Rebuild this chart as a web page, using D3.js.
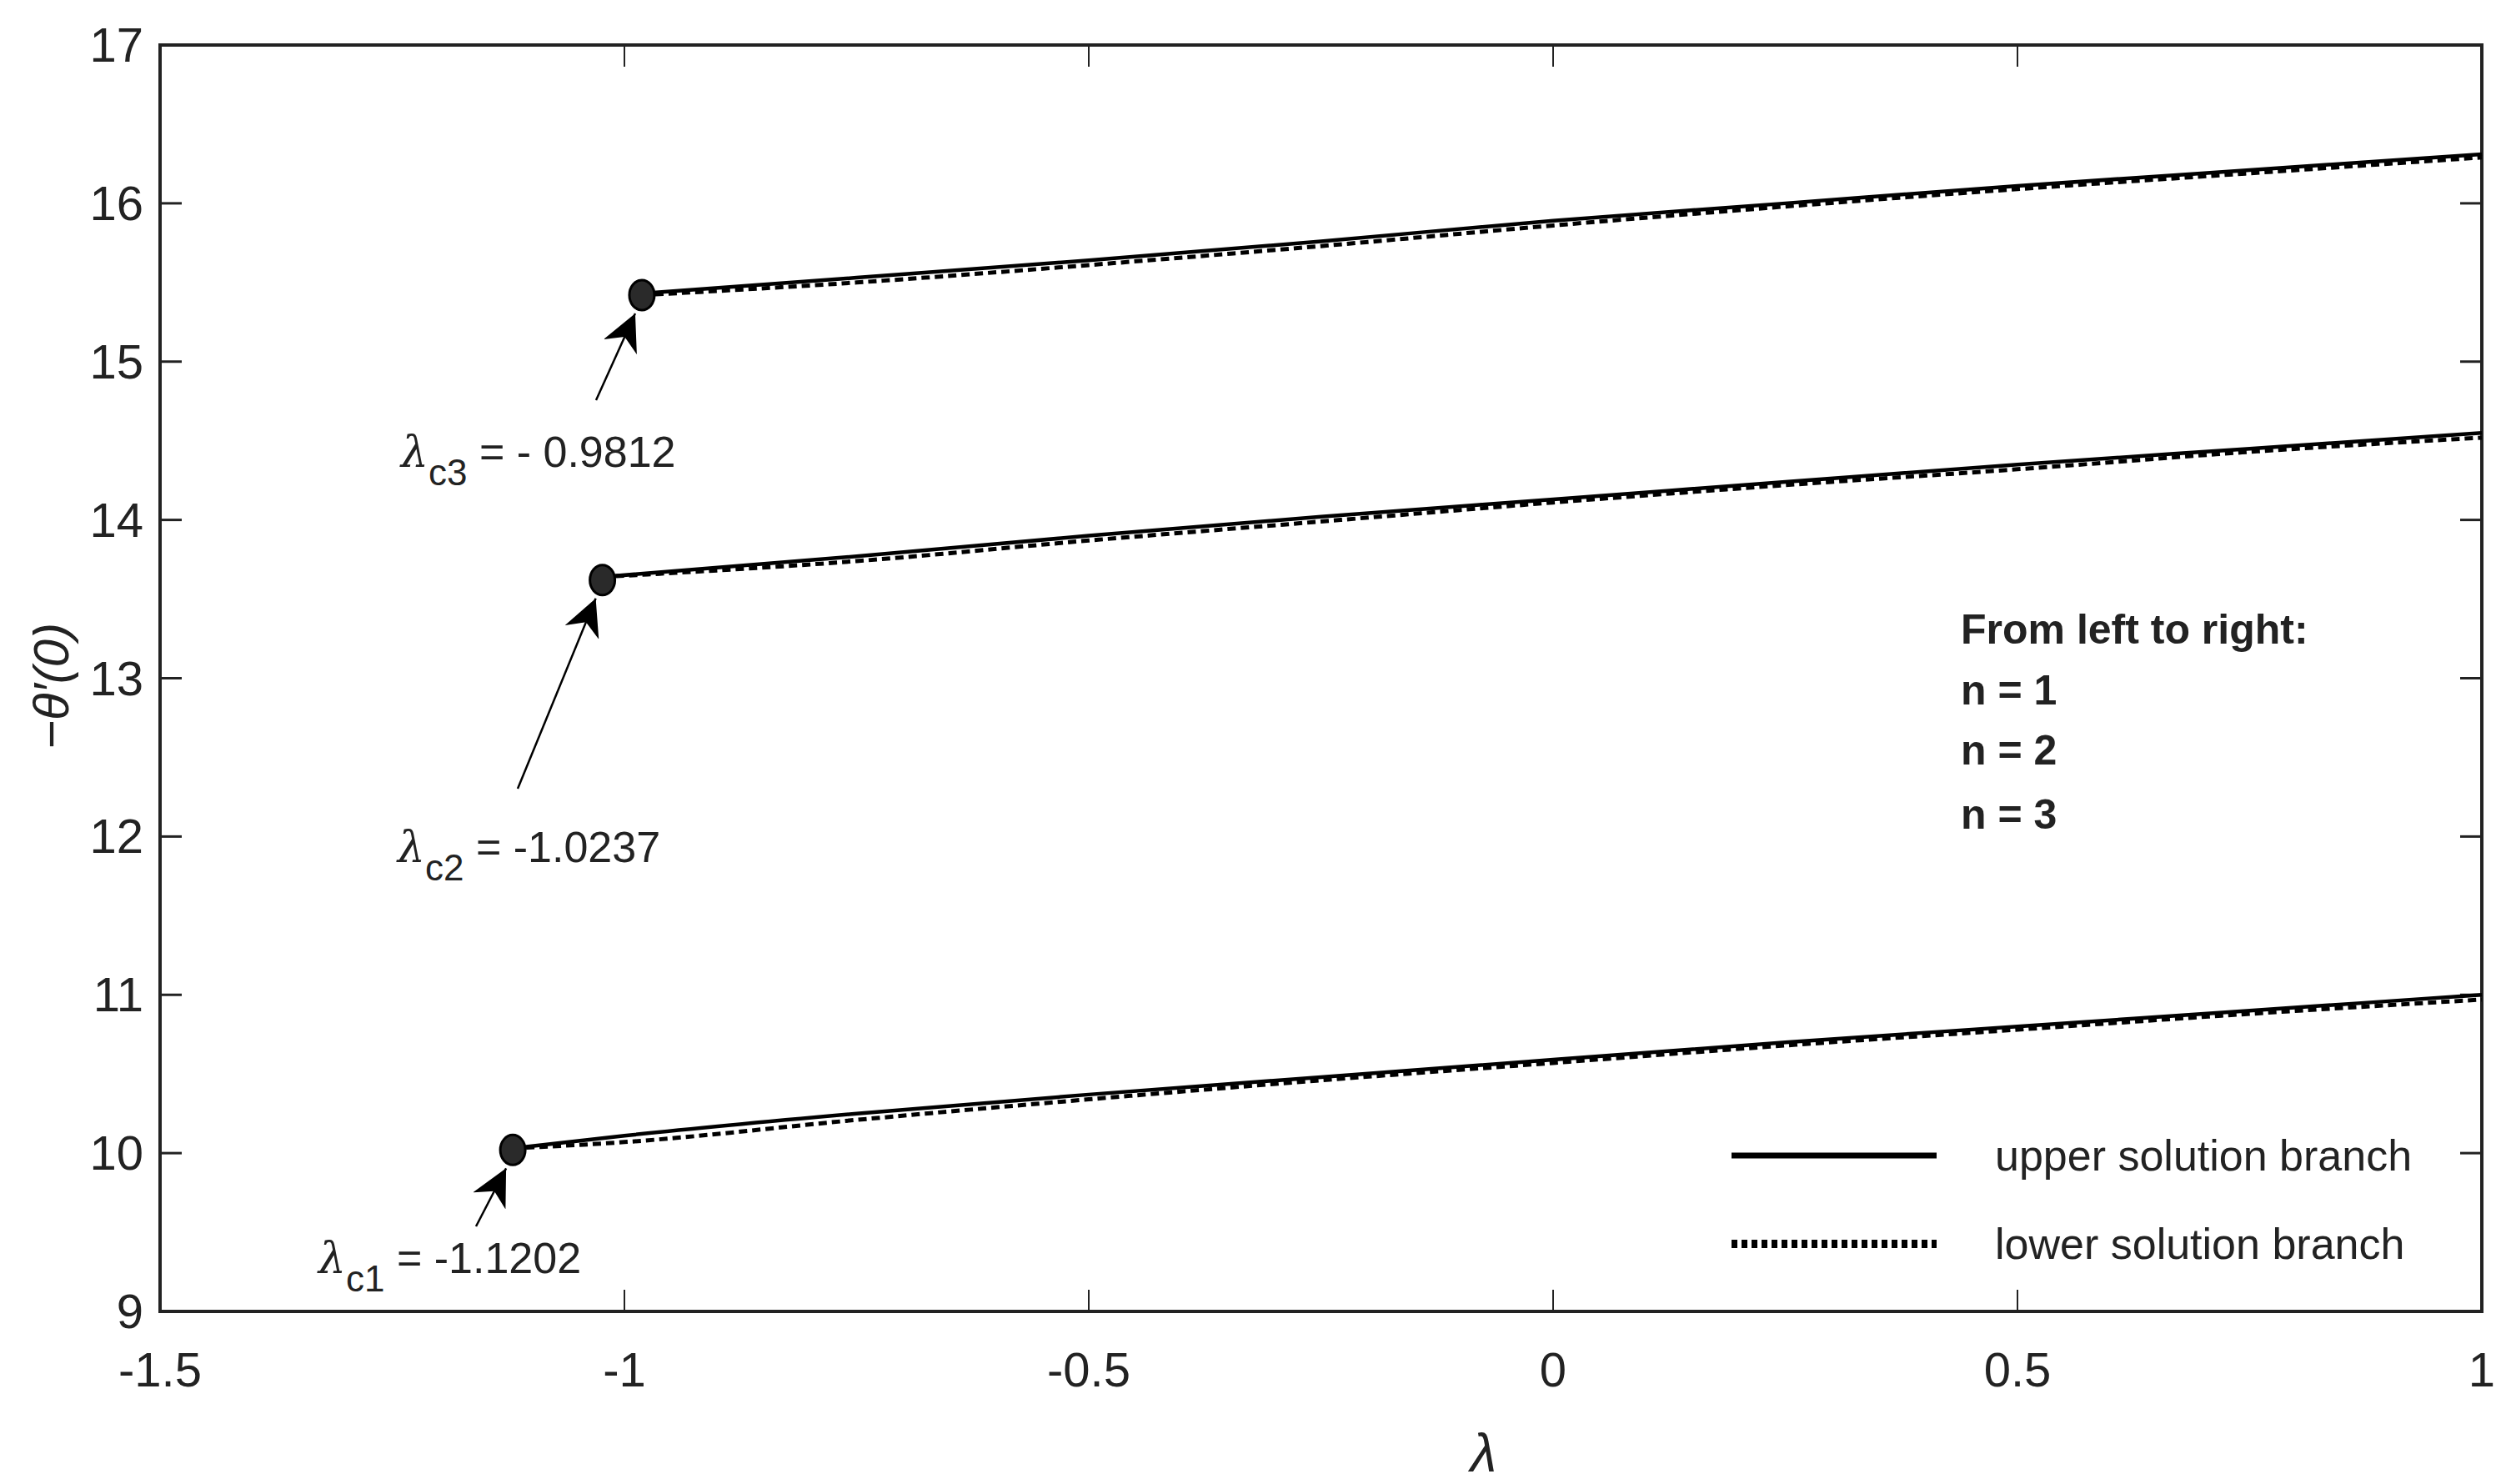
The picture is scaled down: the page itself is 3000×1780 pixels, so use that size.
<!DOCTYPE html>
<html><head><meta charset="utf-8">
<script src="https://cdn.jsdelivr.net/npm/d3@7"></script>
<style>body{margin:0;background:#fff}text{font-family:"Liberation Sans",Arial,sans-serif;fill:#222}</style>
</head><body>
<script>
var width = 3000, height = 1780,
  margin = {left: 192, right: 23, top: 54, bottom: 207};

var xTicks = [-1.5, -1, -0.5, 0, 0.5, 1],
  yTicks = [9, 10, 11, 12, 13, 14, 15, 16, 17];

// lambda values along each branch
var lamN1 = [-1.1202, -1.0, -0.75, -0.5, -0.25, 0, 0.25, 0.5, 0.75, 1],
  upperN1 = [10.03, 10.11, 10.25, 10.37, 10.48, 10.59, 10.70, 10.80, 10.90, 11.00],
  lowerN1 = [10.03, 10.07, 10.21, 10.34, 10.46, 10.57, 10.68, 10.78, 10.88, 10.97];
var lamN2 = [-1.0237, -0.75, -0.5, -0.25, 0, 0.25, 0.5, 0.75, 1],
  upperN2 = [13.64, 13.77, 13.90, 14.02, 14.13, 14.24, 14.35, 14.45, 14.55],
  lowerN2 = [13.64, 13.74, 13.87, 13.99, 14.11, 14.22, 14.32, 14.43, 14.52];
var lamN3 = [-0.9812, -0.75, -0.5, -0.25, 0, 0.25, 0.5, 0.75, 1],
  upperN3 = [15.43, 15.53, 15.64, 15.76, 15.89, 16.00, 16.11, 16.21, 16.31],
  lowerN3 = [15.42, 15.50, 15.61, 15.73, 15.86, 15.98, 16.09, 16.19, 16.29];

var critLam = [-1.1202, -1.0237, -0.9812],
  critVal = [10.02, 13.62, 15.42],
  critLabel = ['c1', 'c2', 'c3'],
  critText = [' = -1.1202', ' = -1.0237', ' = - 0.9812'];

var svg = d3.select('body').append('svg').attr('width', width).attr('height', height);

var x = d3.scaleLinear().domain([-1.5, 1]).range([margin.left, width - margin.right]),
  y = d3.scaleLinear().domain([9, 17]).range([height - margin.bottom, margin.top]);

var tick = 26;
var axes = svg.append('g').attr('stroke', '#222');
xTicks.forEach(function(t){
  axes.append('line').attr('x1', x(t)).attr('x2', x(t)).attr('y1', y(9)).attr('y2', y(9) - tick).attr('stroke-width', 2);
  axes.append('line').attr('x1', x(t)).attr('x2', x(t)).attr('y1', y(17)).attr('y2', y(17) + tick).attr('stroke-width', 2);
  svg.append('text').attr('x', x(t)).attr('y', y(9) + 90).attr('text-anchor', 'middle').attr('font-size', 58).text(t);
});
yTicks.forEach(function(t){
  axes.append('line').attr('x1', x(-1.5)).attr('x2', x(-1.5) + tick).attr('y1', y(t)).attr('y2', y(t)).attr('stroke-width', 3);
  axes.append('line').attr('x1', x(1)).attr('x2', x(1) - tick).attr('y1', y(t)).attr('y2', y(t)).attr('stroke-width', 3);
  svg.append('text').attr('x', x(-1.5) - 20).attr('y', y(t) + 20).attr('text-anchor', 'end').attr('font-size', 58).text(t);
});
axes.append('rect').attr('x', x(-1.5)).attr('y', y(17)).attr('width', x(1) - x(-1.5)).attr('height', y(9) - y(17))
  .attr('fill', 'none').attr('stroke-width', 4);

var line = d3.line().x(function(d){return x(d[0]);}).y(function(d){return y(d[1]);}).curve(d3.curveMonotoneX);
[[lamN1, upperN1, lowerN1], [lamN2, upperN2, lowerN2], [lamN3, upperN3, lowerN3]].forEach(function(s){
  svg.append('path').datum(d3.zip(s[0], s[2])).attr('d', line).attr('fill', 'none')
    .attr('stroke', '#000').attr('stroke-width', 5).attr('stroke-dasharray', '10,6');
  svg.append('path').datum(d3.zip(s[0], s[1])).attr('d', line).attr('fill', 'none')
    .attr('stroke', '#000').attr('stroke-width', 4.5);
});

// critical points, arrows, labels
var defs = svg.append('defs');
defs.append('marker').attr('id', 'ah').attr('viewBox', '0 0 10 10').attr('refX', 10).attr('refY', 5)
  .attr('markerWidth', 12).attr('markerHeight', 12).attr('orient', 'auto').attr('markerUnits', 'userSpaceOnUse')
  .append('path').attr('d', 'M0,0 L10,5 L0,10 L3,5 Z').attr('fill', '#000');
defs.select('marker').attr('markerWidth', 44).attr('markerHeight', 44);

var arrowFrom = [[571, 1471], [621, 946], [715, 480]],
  labelPos = [[382, 1527], [477, 1034], [481, 560]];
critLam.forEach(function(l, i){
  var cx = x(l), cy = y(critVal[i]);
  svg.append('line').attr('x1', arrowFrom[i][0]).attr('y1', arrowFrom[i][1])
    .attr('x2', cx - 8).attr('y2', cy + 22).attr('stroke', '#000').attr('stroke-width', 2.5)
    .attr('marker-end', 'url(#ah)');
  svg.append('ellipse').attr('cx', cx).attr('cy', cy).attr('rx', 15).attr('ry', 18)
    .attr('fill', '#2a2a2a').attr('stroke', '#000').attr('stroke-width', 3);
  var t = svg.append('text').attr('x', labelPos[i][0]).attr('y', labelPos[i][1]).attr('font-size', 52);
  t.append('tspan').attr('font-family', 'DejaVu Serif').attr('font-style', 'italic').text('λ');
  t.append('tspan').attr('dy', 22).attr('font-size', 44).text(critLabel[i]);
  t.append('tspan').attr('dy', -22).text(critText[i]);
});

// n labels
var nText = ['From left to right:', 'n = 1', 'n = 2', 'n = 3'],
  nY = [772, 845, 917, 994];
nText.forEach(function(s, i){
  svg.append('text').attr('x', 2352).attr('y', nY[i]).attr('font-size', 50).attr('font-weight', 'bold').text(s);
});

// legend
var legItems = [['upper solution branch', null, 1386], ['lower solution branch', '10,6', 1492]];
legItems.forEach(function(d){
  svg.append('line').attr('x1', 2077).attr('x2', 2323).attr('y1', d[2]).attr('y2', d[2])
    .attr('stroke', '#000').attr('stroke-width', d[1] ? 10 : 7).attr('stroke-dasharray', d[1] ? '7,5' : null);
  svg.append('text').attr('x', 2393).attr('y', d[2] + 18).attr('font-size', 52).text(d[0]);
});

// axis titles
svg.append('text').attr('x', x(-0.075)).attr('y', 1765).attr('text-anchor', 'middle').attr('font-size', 64)
  .attr('font-family', 'DejaVu Serif').attr('font-style', 'italic').text('λ');
svg.append('text').attr('transform', 'translate(82,' + y(12.95) + ') rotate(-90)').attr('text-anchor', 'middle')
  .attr('font-size', 60).attr('font-family', 'DejaVu Serif').text('−θ′(0)')
  .style('font-style', 'italic');
</script>
</body></html>
